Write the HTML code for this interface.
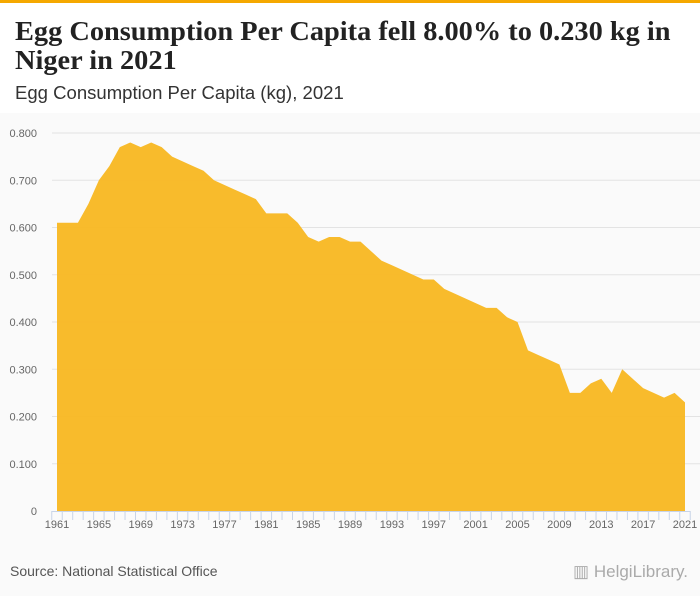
<!DOCTYPE html>
<html><head><meta charset="utf-8"><style>
body{margin:0;width:700px;height:596px;background:#fafafa;font-family:"Liberation Sans",sans-serif;overflow:hidden;position:relative}
#hdr{position:absolute;left:0;top:0;width:700px;height:113px;background:#fff;border-top:3px solid #f5a800;box-sizing:border-box}
#title{position:absolute;left:15px;top:14px;font-family:"Liberation Serif",serif;font-weight:bold;font-size:27px;line-height:29px;color:#222;transform:scaleX(1.05);transform-origin:0 0;white-space:nowrap}
#sub{position:absolute;left:15px;top:80px;font-size:18px;color:#333;transform:scaleX(1.03);transform-origin:0 0;white-space:nowrap}
#src{position:absolute;left:10px;top:563px;font-size:14px;color:#555}
#logo{position:absolute;right:12px;top:562px;font-size:17px;color:#aaa}
svg{position:absolute;left:0;top:0}
</style></head><body>
<div id="hdr">
<div id="title">Egg Consumption Per Capita fell 8.00% to 0.230 kg in<br>Niger in 2021</div>
<div id="sub">Egg Consumption Per Capita (kg), 2021</div>
</div>
<svg id="chart" width="700" height="596"></svg>
<div id="src">Source: National Statistical Office</div>
<div id="logo">▥ HelgiLibrary.</div>
<script>
const startYear=1961;
const values=[0.61,0.61,0.61,0.65,0.70,0.73,0.77,0.78,0.77,0.78,0.77,0.75,0.74,0.73,0.72,0.70,0.69,0.68,0.67,0.66,0.63,0.63,0.63,0.61,0.58,0.57,0.58,0.58,0.57,0.57,0.55,0.53,0.52,0.51,0.50,0.49,0.49,0.47,0.46,0.45,0.44,0.43,0.43,0.41,0.40,0.34,0.33,0.32,0.31,0.25,0.25,0.27,0.28,0.25,0.30,0.28,0.26,0.25,0.24,0.25,0.23];
const yTicks=[0,0.1,0.2,0.3,0.4,0.5,0.6,0.7,0.8];
const yTickLabels=["0","0.100","0.200","0.300","0.400","0.500","0.600","0.700","0.800"];
const xLabelYears=[1961,1965,1969,1973,1977,1981,1985,1989,1993,1997,2001,2005,2009,2013,2017,2021];
const NS="http://www.w3.org/2000/svg";
const svg=document.getElementById('chart');
const x0=57,x1=685,y0=511,y1=133;
const endYear=startYear+values.length-1;
function X(yr){return x0+(yr-startYear)/(endYear-startYear)*(x1-x0);}
function Y(v){return y0-v/0.8*(y0-y1);}
function mk(t,a){const e=document.createElementNS(NS,t);for(const k in a)e.setAttribute(k,a[k]);svg.appendChild(e);return e;}
yTicks.forEach((t,i)=>{
 if(i>0){const g=mk('line',{x1:52,x2:700,y1:Y(t),y2:Y(t),stroke:'#e3e3e3','stroke-width':1});
 
 }
 const l=mk('text',{x:37,y:Y(t)+4,'text-anchor':'end','font-size':11,fill:'#666','font-family':'Liberation Sans, sans-serif'});
 l.textContent=yTickLabels[i];
 
 
});
let d='M'+X(startYear)+','+Y(0);
values.forEach((v,i)=>{d+=' L'+X(startYear+i)+','+Y(v);});
d+=' L'+X(endYear)+','+Y(0)+' Z';
const area=mk('path',{d:d,fill:'#f8b721',opacity:0.95});


const ax=mk('line',{x1:52,x2:690,y1:y0+0.5,y2:y0+0.5,stroke:'#c8d4e8'});


for(let yr=startYear-0.5;yr<=endYear+0.5;yr++){
 const t=mk('line',{x1:X(yr),x2:X(yr),y1:y0,y2:y0+9,stroke:'#c8d4e8'});
 
 
}
xLabelYears.forEach(yr=>{
 const l=mk('text',{x:X(yr),y:528,'text-anchor':'middle','font-size':11,fill:'#666','font-family':'Liberation Sans, sans-serif'});
 l.textContent=yr;
 
 
});
</script>
</body></html>
